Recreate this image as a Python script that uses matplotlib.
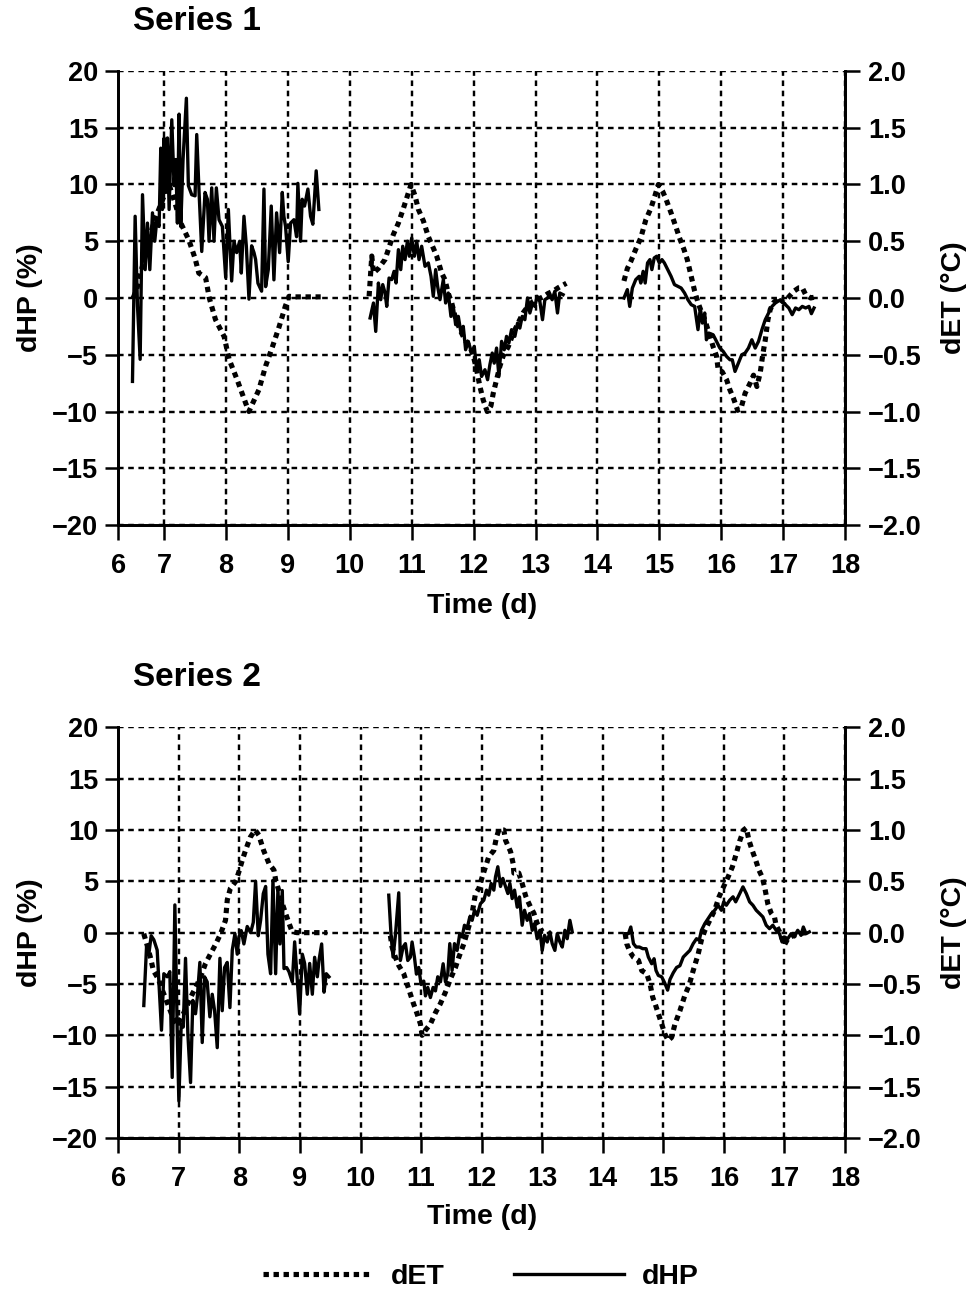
import numpy as np
import matplotlib
matplotlib.use("Agg")
import matplotlib.pyplot as plt

plt.rcParams['font.family'] = ['Liberation Sans', 'DejaVu Sans']
plt.rcParams['font.weight'] = 'bold'
plt.rcParams['axes.unicode_minus'] = True

# ---------------- Series 1 : dHP (%) ----------------
s1_hp_t1 = [6.489, 6.532, 6.570, 6.613, 6.651, 6.694, 6.731, 6.769, 6.812, 6.849,
            6.882, 6.919, 6.946, 6.973, 7.000, 7.027, 7.054, 7.081, 7.124, 7.161,
            7.188, 7.215, 7.242, 7.269, 7.306, 7.360, 7.392, 7.446, 7.500, 7.527,
            7.565, 7.608, 7.661, 7.699, 7.726, 7.769, 7.806, 7.844, 7.887, 7.941,
            7.995, 8.038, 8.091, 8.129, 8.172, 8.220, 8.247, 8.290, 8.328, 8.371,
            8.414, 8.452, 8.478, 8.516, 8.575, 8.613, 8.640, 8.683, 8.731, 8.774,
            8.817, 8.866, 8.909, 8.935, 8.962, 9.005, 9.043, 9.097, 9.140, 9.161,
            9.204, 9.231, 9.269, 9.323, 9.366, 9.403, 9.457, 9.500]
s1_hp_v1 = [-7.35, 7.2, -0.7, -5.4, 9.1, 2.5, 6.6, 2.5, 7.5, 5.0,
            6.9, 6.3, 13.2, 7.8, 14.1, 9.3, 14.1, 7.8, 15.7, 9.9,
            12.2, 6.6, 16.2, 6.3, 12.2, 17.6, 9.9, 9.1, 9.0, 14.4,
            9.3, 4.1, 9.3, 8.7, 5.0, 9.7, 5.0, 9.7, 6.9, 6.3,
            1.8, 7.8, 1.5, 5.0, 4.0, 5.0, 2.2, 7.2, 4.6, -0.1,
            4.6, 4.0, 3.4, 1.3, 0.6, 9.6, 1.0, 2.5, 8.1, 1.6,
            7.5, 4.0, 9.3, 7.2, 6.3, 3.2, 6.6, 6.9, 5.4, 10.1,
            5.0, 8.7, 8.1, 9.6, 7.2, 6.5, 11.2, 7.8]

s1_hp_t2 = [10.328, 10.382, 10.419, 10.462, 10.500, 10.532, 10.570, 10.597, 10.634, 10.677,
            10.715, 10.747, 10.785, 10.823, 10.855, 10.892, 10.930, 10.962, 11.000, 11.043,
            11.081, 11.118, 11.161, 11.215, 11.269, 11.312, 11.349, 11.387, 11.419, 11.457,
            11.511, 11.548, 11.591, 11.634, 11.672, 11.710, 11.753, 11.796, 11.833, 11.871,
            11.914, 11.968, 12.011, 12.048, 12.091, 12.129, 12.183, 12.226, 12.263, 12.301,
            12.333, 12.371, 12.409, 12.452, 12.495, 12.532, 12.570, 12.613, 12.667, 12.710,
            12.747, 12.785, 12.828, 12.871, 12.909, 12.952, 12.989, 13.027, 13.070, 13.113,
            13.151, 13.194, 13.231, 13.269, 13.312, 13.355, 13.392, 13.446]
s1_hp_v2 = [-1.76, -0.44, -2.94, 1.32, -0.15, 1.18, 0.44, -0.74, 1.76, 1.62,
            2.35, 1.32, 4.26, 2.5, 4.56, 3.38, 5.0, 3.68, 5.29, 3.68,
            5.0, 3.38, 4.56, 2.79, 3.09, 1.91, 0.15, 2.5, 1.03, -0.15,
            1.62, -0.44, 0.44, -1.62, -0.74, -2.35, -1.62, -3.09, -2.5, -4.56,
            -3.82, -4.85, -4.26, -6.32, -5.44, -6.91, -6.32, -7.2, -5.88, -4.85,
            -5.74, -4.41, -6.91, -3.82, -4.56, -3.38, -3.97, -2.79, -3.38, -2.21,
            -2.65, -1.62, -1.91, 0.0, -1.32, -0.44, -0.74, 0.15, -0.29, -1.91,
            -0.15, 0.0, 0.29, -0.15, 0.59, -1.32, 0.44, 0.29]

s1_hp_t3 = [14.429, 14.484, 14.522, 14.565, 14.620, 14.674, 14.701, 14.739, 14.772, 14.810,
            14.848, 14.880, 14.918, 14.957, 15.000, 15.043, 15.082, 15.136, 15.190, 15.245,
            15.299, 15.353, 15.408, 15.462, 15.516, 15.571, 15.625, 15.663, 15.696, 15.734,
            15.761, 15.799, 15.870, 15.924, 15.978, 16.033, 16.087, 16.141, 16.179, 16.223,
            16.277, 16.332, 16.386, 16.440, 16.495, 16.549, 16.603, 16.658, 16.712, 16.766,
            16.821, 16.875, 16.957, 17.038, 17.092, 17.147, 17.201, 17.255, 17.310, 17.364,
            17.418, 17.457, 17.500]
s1_hp_v3 = [0.0, 0.74, -0.74, 0.88, 1.62, 1.91, 1.32, 2.35, 1.32, 3.09,
            3.38, 2.5, 3.53, 3.68, 3.09, 3.38, 3.09, 2.5, 1.91, 1.18,
            1.03, 0.88, 0.44, -0.15, -0.59, -0.74, -2.79, -0.88, -2.21, -1.32,
            -3.68, -3.09, -3.24, -3.82, -4.41, -4.71, -5.15, -5.44, -5.44, -6.47,
            -5.74, -5.0, -4.85, -4.41, -3.68, -4.41, -3.82, -2.79, -1.91, -1.32,
            -0.74, -0.44, -0.15, -0.59, -0.88, -1.47, -0.88, -1.03, -0.74, -0.88,
            -0.74, -1.38, -0.88]

# ---------------- Series 1 : dET (°C) ----------------
s1_et_t1 = [6.50, 6.56, 6.62, 6.68, 6.75, 6.82, 6.90, 7.00, 7.08, 7.18, 7.27, 7.40,
            7.50, 7.56, 7.67, 7.73, 7.83, 7.97, 8.05, 8.18, 8.32, 8.37, 8.53, 8.64,
            8.75, 8.86, 8.96, 9.02, 9.12, 9.22, 9.33, 9.44, 9.53]
s1_et_v1 = [0.0, 0.08, 0.22, 0.34, 0.5, 0.64, 0.76, 0.9, 1.0, 0.83, 0.66, 0.51,
            0.35, 0.22, 0.18, 0.0, -0.19, -0.34, -0.54, -0.72, -0.93, -1.0, -0.81, -0.6,
            -0.43, -0.25, -0.07, 0.015, 0.01, 0.01, 0.01, 0.01, 0.01]

s1_et_t2 = [10.312, 10.355, 10.382, 10.462, 10.570, 10.624, 10.704, 10.785, 10.866, 10.919,
            10.989, 11.054, 11.108, 11.188, 11.269, 11.349, 11.403, 11.484, 11.538, 11.591,
            11.645, 11.699, 11.780, 11.860, 11.941, 11.995, 12.048, 12.102, 12.156, 12.220,
            12.280, 12.317, 12.371, 12.425, 12.478, 12.559, 12.640, 12.720, 12.801, 12.882,
            12.962, 13.043, 13.124, 13.204, 13.285, 13.366, 13.500]
s1_et_v2 = [0.015, 0.37, 0.22, 0.26, 0.34, 0.43, 0.56, 0.66, 0.79, 0.88,
            1.0, 0.9, 0.78, 0.68, 0.54, 0.44, 0.37, 0.22, 0.16, 0.04,
            -0.04, -0.16, -0.28, -0.37, -0.43, -0.51, -0.63, -0.78, -0.9, -1.0,
            -0.95, -0.84, -0.72, -0.6, -0.51, -0.43, -0.31, -0.22, -0.13, -0.07,
            -0.03, -0.01, 0.01, 0.04, 0.06, 0.09, 0.13]

s1_et_t3 = [14.429, 14.484, 14.538, 14.620, 14.701, 14.783, 14.864, 14.929, 14.984, 15.054,
            15.109, 15.190, 15.272, 15.326, 15.397, 15.451, 15.516, 15.571, 15.625, 15.679,
            15.734, 15.804, 15.870, 15.924, 15.951, 16.016, 16.087, 16.141, 16.196, 16.266,
            16.321, 16.386, 16.467, 16.522, 16.576, 16.630, 16.674, 16.712, 16.755, 16.793,
            16.848, 16.929, 17.011, 17.092, 17.174, 17.255, 17.310, 17.364, 17.446, 17.527]
s1_et_v3 = [0.15, 0.26, 0.32, 0.43, 0.53, 0.69, 0.79, 0.9, 1.0, 0.94,
            0.87, 0.75, 0.62, 0.53, 0.43, 0.34, 0.19, 0.06, -0.04, -0.12,
            -0.19, -0.31, -0.43, -0.51, -0.63, -0.65, -0.72, -0.81, -0.88, -0.99,
            -0.97, -0.84, -0.75, -0.68, -0.78, -0.66, -0.49, -0.37, -0.19, -0.10,
            -0.04, 0.0, -0.04, 0.01, 0.06, 0.09, 0.09, 0.03, 0.0, 0.01]

# ---------------- Series 2 : dHP (%) ----------------
s2_hp_t1 = [6.421, 6.466, 6.504, 6.543, 6.587, 6.642, 6.713, 6.752, 6.807, 6.851,
            6.890, 6.934, 6.972, 7.000, 7.039, 7.072, 7.110, 7.149, 7.193, 7.231,
            7.275, 7.303, 7.347, 7.386, 7.424, 7.468, 7.512, 7.551, 7.590, 7.634,
            7.678, 7.716, 7.755, 7.799, 7.843, 7.882, 7.926, 7.964, 7.992, 8.030,
            8.074, 8.129, 8.185, 8.229, 8.267, 8.311, 8.350, 8.394, 8.433, 8.471,
            8.515, 8.554, 8.598, 8.636, 8.669, 8.708, 8.736, 8.780, 8.818, 8.873,
            8.912, 8.945, 8.994, 9.039, 9.077, 9.121, 9.160, 9.204, 9.242, 9.287,
            9.314, 9.358, 9.397, 9.435, 9.479]
s2_hp_v1 = [-7.1, -1.4, -2.1, -0.3, -0.7, -1.7, -9.5, -4.0, -4.3, -3.8,
            -14.1, 2.7, -9.2, -16.4, -8.9, -9.2, -2.5, -9.9, -14.6, -6.6,
            -7.9, -6.4, -2.9, -10.7, -4.3, -4.8, -8.2, -6.0, -7.6, -11.2,
            -2.5, -7.6, -3.4, -2.9, -7.3, -1.7, -0.1, -2.1, -0.4, 0.2,
            -1.1, 0.6, 0.0, 1.0, 5.0, -0.3, 1.2, 3.8, 4.5, -2.1,
            -4.0, 5.1, -4.0, 4.3, -1.1, 4.1, -3.5, -3.4, -3.8, -4.8,
            -0.9, -3.7, -7.9, -2.1, -3.0, -6.0, -3.0, -6.0, -2.4, -4.3,
            -2.7, -1.1, -5.8, -4.0, -4.3]

s2_hp_t2 = [10.466, 10.504, 10.537, 10.576, 10.631, 10.658, 10.702, 10.741, 10.780, 10.824,
            10.851, 10.890, 10.923, 10.961, 11.000, 11.044, 11.072, 11.110, 11.154, 11.198,
            11.237, 11.275, 11.320, 11.364, 11.402, 11.441, 11.474, 11.512, 11.551, 11.595,
            11.639, 11.678, 11.716, 11.760, 11.804, 11.843, 11.882, 11.926, 11.981, 12.036,
            12.080, 12.118, 12.157, 12.201, 12.229, 12.267, 12.311, 12.350, 12.394, 12.433,
            12.466, 12.504, 12.543, 12.587, 12.625, 12.669, 12.708, 12.752, 12.791, 12.835,
            12.873, 12.917, 12.961, 13.000, 13.039, 13.083, 13.127, 13.165, 13.209, 13.248,
            13.292, 13.331, 13.375, 13.413, 13.457, 13.496]
s2_hp_v2 = [3.65, -0.26, -2.38, -0.26, 3.88, -2.71, -1.40, -1.07, -2.71, -2.38,
            -0.91, -2.38, -4.04, -3.39, -5.05, -4.72, -6.16, -5.34, -6.32, -5.34,
            -5.67, -4.30, -4.79, -3.03, -4.79, -4.01, -1.07, -3.68, -1.07, -1.73,
            -0.10, -0.42, 0.72, 0.39, 1.53, 1.20, 2.18, 1.69, 2.83, 3.16,
            4.14, 3.65, 4.79, 4.14, 5.44, 6.42, 4.50, 5.28, 4.50, 3.81,
            4.79, 3.32, 4.14, 2.48, 3.48, 0.72, 2.18, 1.20, 1.86, 0.23,
            0.88, -0.59, 0.23, -1.73, -0.26, -0.91, 0.07, -1.07, -1.73, -0.10,
            -0.91, -1.40, 0.23, -0.59, 1.20, 0.07]

s2_hp_t3 = [14.370, 14.425, 14.463, 14.507, 14.551, 14.605, 14.660, 14.715, 14.753, 14.808,
            14.847, 14.879, 14.918, 14.973, 15.027, 15.071, 15.110, 15.164, 15.219, 15.274,
            15.329, 15.384, 15.438, 15.493, 15.548, 15.592, 15.630, 15.685, 15.740, 15.795,
            15.849, 15.904, 15.959, 15.997, 16.041, 16.096, 16.151, 16.195, 16.249, 16.315,
            16.370, 16.425, 16.479, 16.534, 16.589, 16.644, 16.699, 16.753, 16.808, 16.863,
            16.918, 16.962, 17.000, 17.055, 17.110, 17.164, 17.219, 17.274, 17.312, 17.356,
            17.411]
s2_hp_v3 = [-0.10, -0.10, 0.55, -1.07, -1.40, -1.40, -1.56, -1.56, -2.38, -3.03,
            -2.54, -3.68, -4.17, -4.30, -4.95, -5.60, -4.56, -3.91, -3.39, -3.22,
            -2.38, -2.05, -1.73, -1.07, -0.59, -0.75, 0.23, 0.88, 1.37, 1.86,
            2.18, 2.67, 2.18, 3.00, 2.67, 3.16, 3.49, 3.00, 3.65, 4.46,
            3.81, 3.00, 2.67, 2.18, 1.86, 1.53, 0.72, 0.39, 0.72, 0.23,
            -0.10, -0.91, -0.42, -0.59, -0.10, -0.42, 0.23, -0.26, 0.55, -0.10,
            0.07]

# ---------------- Series 2 : dET (°C) ----------------
s2_et_t1 = [6.42, 6.47, 6.53, 6.58, 6.66, 6.74, 6.82, 6.89, 6.97, 7.05, 7.13, 7.22,
            7.29, 7.36, 7.44, 7.52, 7.61, 7.69, 7.77, 7.80, 7.85, 7.94, 7.99, 8.05,
            8.10, 8.18, 8.26, 8.32, 8.40, 8.49, 8.57, 8.60, 8.65, 8.71, 8.76, 8.82,
            8.87, 8.95, 9.10, 9.25, 9.45]
s2_et_v1 = [-0.01, -0.11, -0.24, -0.37, -0.45, -0.58, -0.70, -0.81, -0.90, -0.82, -0.72, -0.60,
            -0.52, -0.43, -0.30, -0.21, -0.11, -0.01, 0.12, 0.32, 0.43, 0.50, 0.59, 0.71,
            0.80, 0.93, 1.0, 0.95, 0.80, 0.67, 0.61, 0.51, 0.41, 0.28, 0.19, 0.09,
            0.01, 0.0, 0.0, 0.0, 0.0]

s2_et_t2 = [10.493, 10.521, 10.576, 10.631, 10.713, 10.769, 10.824, 10.868, 10.934, 10.989,
            11.017, 11.072, 11.154, 11.237, 11.320, 11.402, 11.485, 11.567, 11.623, 11.705,
            11.788, 11.843, 11.898, 11.953, 12.008, 12.063, 12.118, 12.201, 12.245, 12.284,
            12.366, 12.394, 12.477, 12.521, 12.532, 12.614, 12.669, 12.725, 12.752, 12.807,
            12.862, 12.917, 13.000]
s2_et_v2 = [-0.03, -0.14, -0.24, -0.32, -0.40, -0.50, -0.60, -0.68, -0.79, -0.89,
            -1.0, -0.95, -0.89, -0.78, -0.69, -0.58, -0.45, -0.34, -0.24, -0.11,
            0.06, 0.19, 0.38, 0.43, 0.54, 0.64, 0.74, 0.80, 0.93, 1.0,
            1.0, 0.90, 0.79, 0.67, 0.58, 0.58, 0.48, 0.36, 0.32, 0.25,
            0.19, 0.09, 0.01]

s2_et_t3 = [14.370, 14.397, 14.452, 14.507, 14.589, 14.644, 14.726, 14.781, 14.825, 14.863,
            14.918, 14.973, 15.027, 15.082, 15.137, 15.192, 15.274, 15.356, 15.427, 15.493,
            15.575, 15.630, 15.685, 15.767, 15.849, 15.921, 15.997, 16.068, 16.140, 16.205,
            16.260, 16.326, 16.370, 16.414, 16.468, 16.523, 16.578, 16.633, 16.671, 16.726,
            16.781, 16.836, 16.863, 16.918, 17.000, 17.055, 17.137, 17.247, 17.356]
s2_et_v3 = [-0.01, -0.11, -0.19, -0.24, -0.27, -0.37, -0.40, -0.50, -0.63, -0.69,
            -0.79, -0.89, -0.99, -1.05, -1.02, -0.89, -0.76, -0.61, -0.51, -0.37,
            -0.21, -0.07, 0.02, 0.12, 0.22, 0.35, 0.45, 0.54, 0.64, 0.77,
            0.89, 1.0, 1.02, 0.90, 0.80, 0.71, 0.61, 0.54, 0.45, 0.28,
            0.19, 0.15, 0.07, 0.01, -0.12, -0.06, -0.03, -0.01, 0.0]

# ---------------- axes / labels ----------------
titles = ["Series 1", "Series 2"]
hp_ticks = [-20, -15, -10, -5, 0, 5, 10, 15, 20]
et_ticks = [-2.0, -1.5, -1.0, -0.5, 0.0, 0.5, 1.0, 1.5, 2.0]
x_tick_labels = [str(d) for d in range(6, 19)]
left_label = "dHP (%)"
right_label = "dET (°C)"
x_label = "Time (d)"
legend_labels = ["dET", "dHP"]

W, H = 971, 1290
fig = plt.figure(figsize=(W / 100, H / 100), dpi=100)

GRID_LS = (0, (2.3, 1.9))
DOT_LS = (0, (1.05, 0.9))


def panel(rect, x_left, hp_segs, et_segs):
    ax = fig.add_axes(rect)
    ax2 = ax.twinx()
    ax.set_zorder(ax2.get_zorder() + 1)
    ax.patch.set_visible(False)
    et_lines = []
    for t, v in et_segs:
        ln, = ax2.plot(t, v, color='black', lw=3.7, linestyle=DOT_LS,
                       dash_capstyle='butt', solid_capstyle='butt')
        et_lines.append(ln)
    hp_lines = []
    for t, v in hp_segs:
        ln, = ax.plot(t, v, color='black', lw=2.4)
        hp_lines.append(ln)
    ax.set_xlim(x_left, 18)
    ax.set_xticks([x_left] + list(range(7, 19)))
    ax.set_xticklabels(x_tick_labels)
    ax.set_ylim(-20, 20)
    ax.set_yticks(hp_ticks)
    ax2.set_ylim(-2, 2)
    ax2.set_yticks(et_ticks)
    ax.grid(True, color='black', lw=1.75, linestyle=GRID_LS)
    for a in (ax, ax2):
        a.spines['top'].set_visible(False)
        for s in ('left', 'right', 'bottom'):
            a.spines[s].set_linewidth(2.0)
    ax.tick_params(axis='y', direction='out', length=9.5, width=1.8,
                   labelsize=19.5, pad=5)
    ax.tick_params(axis='x', direction='out', length=10.5, width=1.8,
                   labelsize=19.5, pad=10)
    ax2.tick_params(axis='y', direction='out', length=10.5, width=1.8,
                    labelsize=19.5, pad=6)
    for lab in ax.get_xticklabels() + ax.get_yticklabels() + ax2.get_yticklabels():
        lab.set_fontweight('bold')
    return ax, ax2, et_lines[0], hp_lines[0]


def fx(px):
    return px / W


def fy(py):
    return 1 - py / H


rect1 = [fx(118.3), fy(525), fx(845) - fx(118.3), (525 - 71) / H]
rect2 = [fx(118.3), fy(1138), fx(845) - fx(118.3), (1138 - 727.3) / H]

ax_a, ax_a2, et_ln, hp_ln = panel(
    rect1, 6.26,
    [(s1_hp_t1, s1_hp_v1), (s1_hp_t2, s1_hp_v2), (s1_hp_t3, s1_hp_v3)],
    [(s1_et_t1, s1_et_v1), (s1_et_t2, s1_et_v2), (s1_et_t3, s1_et_v3)])
ax_b, ax_b2, _, _ = panel(
    rect2, 6,
    [(s2_hp_t1, s2_hp_v1), (s2_hp_t2, s2_hp_v2), (s2_hp_t3, s2_hp_v3)],
    [(s2_et_t1, s2_et_v1), (s2_et_t2, s2_et_v2), (s2_et_t3, s2_et_v3)])

# titles
fig.text(fx(133), fy(22), titles[0], ha='left', va='center', fontsize=24, fontweight='bold')
fig.text(fx(133), fy(678), titles[1], ha='left', va='center', fontsize=24, fontweight='bold')

# axis labels
for yc in (298, 932.5):
    fig.text(fx(30), fy(yc), left_label, rotation=90, ha='center', va='center',
             fontsize=20.5, fontweight='bold')
    fig.text(fx(954), fy(yc), right_label, rotation=90, ha='center', va='center',
             fontsize=20.5, fontweight='bold')
fig.text(fx(482), fy(606), x_label, ha='center', va='center', fontsize=20.5, fontweight='bold')
fig.text(fx(482), fy(1217), x_label, ha='center', va='center', fontsize=20.5, fontweight='bold')

# legend
leg = fig.legend([et_ln, hp_ln], legend_labels, loc='center',
                 bbox_to_anchor=(fx(481), fy(1277)), ncol=2, frameon=False,
                 prop={'size': 20.5, 'weight': 'bold'}, handlelength=3.86,
                 handletextpad=0.63, columnspacing=2.46)

fig.savefig("out.png", dpi=100)
